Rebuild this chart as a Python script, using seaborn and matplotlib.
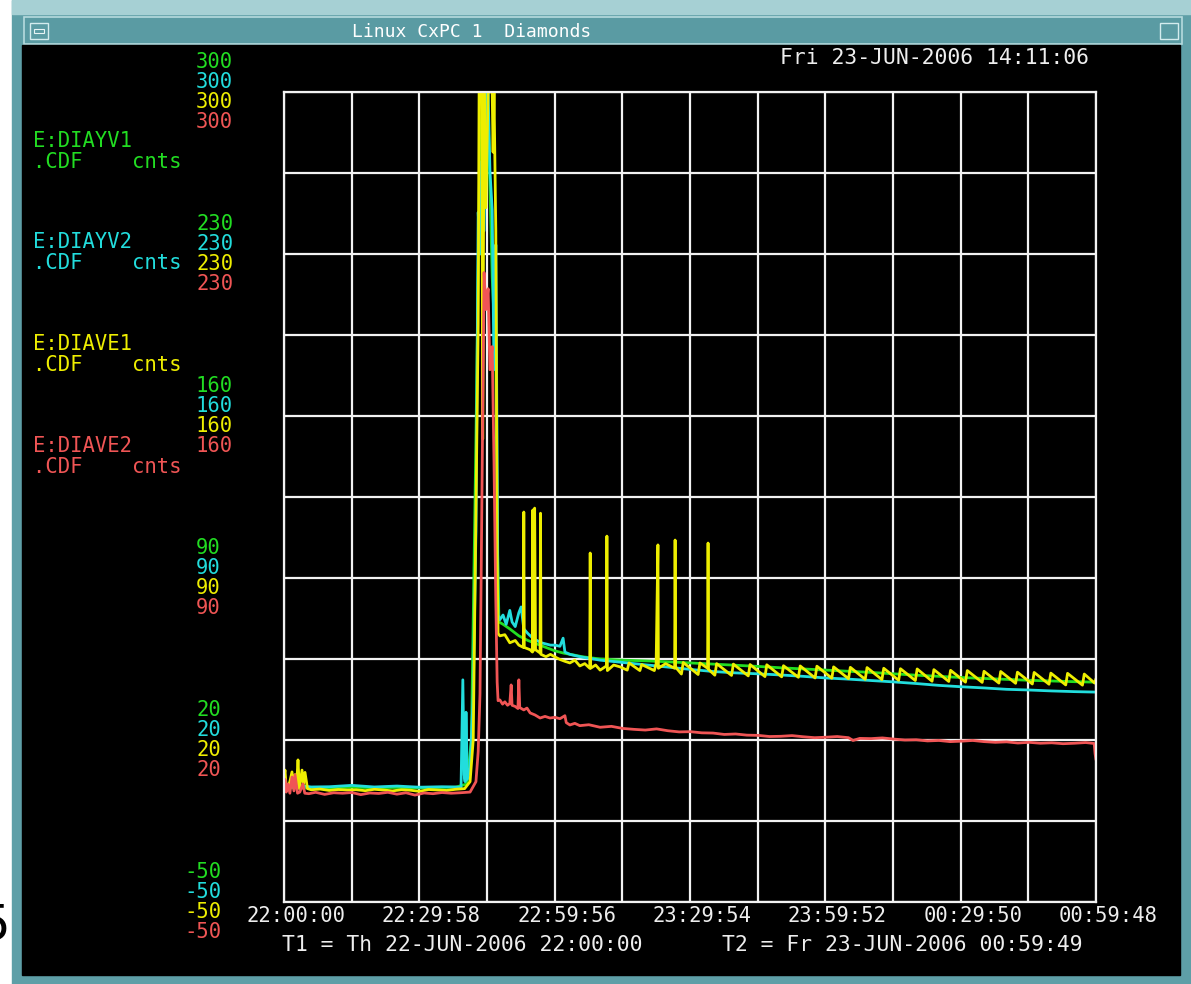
import matplotlib
matplotlib.use("Agg")
import pandas as pd
import matplotlib.pyplot as plt
import seaborn as sns
from matplotlib.patches import Rectangle

W, H = 1191, 984

# --- data: (minutes after T1, counts) ---
signals = ["E:DIAYV1", "E:DIAYV2", "E:DIAVE1", "E:DIAVE2"]
colors = ["#22dd22", "#22dddd", "#eeee00", "#f05555"]

yv1 = [(0, -0.5), (3, -0.8), (6, -0.6), (10, -0.7), (15, -0.4), (20, -0.6), (25, -0.5),
       (30, -0.7), (35, -0.5), (38, -0.4), (40.5, 1.0), (41.5, 20), (42.5, 150), (43.4, 280),
       (44.3, 300), (45.2, 290), (46.1, 220), (46.9, 185), (47.2, 110), (47.6, 71),
       (48.5, 70), (50, 68), (52, 65), (54, 63), (56, 61.5), (58, 60), (60, 58.5), (62, 57.5),
       (64, 56.8), (66, 56), (70, 55), (75, 54.5), (80, 54.2), (85, 53.8), (90, 53.3),
       (95, 52.8), (100, 52.3), (105, 51.8), (110, 51.2), (115, 50.7), (120, 50.2),
       (125, 49.7), (130, 49.2), (135, 48.6), (140, 48.0), (145, 47.5), (150, 47.0),
       (155, 46.6), (160, 46.2), (165, 45.8), (170, 45.5), (175, 45.2), (179.8, 45.0)]

yv2 = [(0, 0.3), (2, -0.3), (4, 0.2), (6, -0.3), (10, -0.2), (15, 0.4), (20, -0.3), (25, 0.1),
       (30, -0.4), (35, -0.2), (38, -0.3), (39.2, -0.5), (39.6, 46), (39.9, 5), (40.1, 2),
       (40.3, 32), (40.6, 3), (41.2, 8), (41.9, 40), (42.5, 110), (43.0, 248), (43.4, 230),
       (43.8, 270), (44.3, 240), (44.7, 300), (45.2, 300), (45.6, 266), (46.1, 249),
       (46.5, 180), (46.9, 234), (47.2, 140), (47.4, 74), (47.8, 72), (48.5, 74), (49.2, 70),
       (50.0, 76), (50.5, 71), (51.2, 69), (52.0, 75), (52.5, 77.5), (53.1, 68), (54.0, 66),
       (55.1, 64), (56.0, 63), (57.0, 62), (58.0, 61.5), (59.0, 61), (60.0, 61), (61.1, 60.5),
       (61.8, 64), (62.2, 58), (63.3, 57), (65.5, 56), (70, 54.5), (75, 53.5), (80, 52.5),
       (85, 51.5), (90, 50.5), (95, 49.6), (100, 49.0), (105, 48.6), (110, 48.1), (115, 47.5),
       (120, 46.8), (125, 46.3), (130, 45.7), (135, 45.1), (140, 44.4), (145, 43.6),
       (150, 43.0), (155, 42.5), (160, 41.9), (165, 41.6), (170, 41.2), (175, 40.9),
       (179.8, 40.7)]

ve1 = [(0, 4), (0.22, 7), (0.5, -1), (0.89, 0), (1.3, 2), (1.77, 6.2), (2.1, 0), (2.44, 5),
       (2.8, 1), (3.1, 11.4), (3.4, -1), (3.99, 7), (4.3, 1), (4.65, 6), (5.2, -1), (6, -1.5),
       (8, -1.2), (10, -1.8), (12, -1.4), (14, -1.6), (16, -1.5), (18, -1.9), (20, -1.3),
       (22, -1.6), (24, -2.0), (26, -1.5), (28, -1.7), (30, -2.2), (32, -1.4), (34, -1.6),
       (36, -1.8), (38, -1.3), (40, -1.0), (41.2, 2), (41.9, 20), (42.5, 120), (43.0, 200),
       (43.2, 300), (43.8, 300), (44.0, 150), (44.3, 300), (44.7, 250), (45.2, 300),
       (46.1, 300), (46.3, 274), (46.5, 300), (46.9, 240), (47.2, 100), (47.4, 66),
       (47.8, 65), (48.9, 65.5), (50.0, 62), (51.2, 63), (52.0, 61), (53.0, 60), (53.1, 118.5),
       (53.2, 60), (54.5, 59), (55.0, 58), (55.1, 119.4), (55.2, 58.5), (55.5, 120.2),
       (55.7, 59), (56.7, 57.6), (56.8, 118), (56.9, 57), (58.0, 56), (59.0, 57), (60.0, 55.9),
       (61.1, 54.8), (62.2, 54), (63.3, 53.3), (64.4, 54.5), (65.5, 52), (66.6, 53), (67.7, 51),
       (67.8, 100.8), (67.9, 51), (69.0, 52.4), (70.0, 50.2), (71.4, 52), (71.5, 108.1),
       (71.6, 50), (73.0, 52.4), (74.4, 51.6), (76.0, 50.2), (76.4, 53.3), (78.8, 50),
       (79.2, 52.6), (82.0, 50.0), (82.4, 53.0), (82.8, 104.3), (82.9, 51), (84.5, 53),
       (86.5, 51), (86.6, 106.4), (86.7, 51.5), (88.0, 48.5), (88.4, 53.5), (91.7, 48.3),
       (92.1, 53.3), (93.8, 51.0), (93.9, 105.1), (94.0, 50.5), (95.4, 48.0), (95.8, 53.0),
       (99.1, 47.9), (99.5, 52.8), (102.8, 47.7), (103.2, 52.6), (106.5, 47.4), (106.9, 52.5),
       (110.2, 47.3), (110.6, 52.1), (113.9, 47.1), (114.3, 52.0), (117.6, 46.8), (118.0, 51.9),
       (121.3, 46.7), (121.7, 51.6), (125.0, 46.5), (125.4, 51.4), (128.7, 46.2), (129.1, 51.3),
       (132.4, 46.1), (132.8, 51.0), (136.1, 45.8), (136.5, 50.8), (139.8, 45.7), (140.2, 50.7),
       (143.5, 45.4), (143.9, 50.4), (147.2, 45.3), (147.6, 50.1), (150.9, 45.0), (151.3, 50.0),
       (154.6, 44.9), (155.0, 49.7), (158.3, 44.6), (158.7, 49.6), (162.0, 44.5), (162.4, 49.3),
       (165.7, 44.2), (166.1, 49.2), (169.4, 44.1), (169.8, 48.9), (173.1, 43.8), (173.5, 48.8),
       (176.8, 43.7), (177.2, 48.5), (179.5, 44.6), (179.8, 46.5)]

ve2 = [(0, -2.5), (0.22, 3), (0.5, -2.5), (0.89, 1), (1.3, -3), (1.77, 4), (2.2, -2), (2.44, 5),
       (3.0, -3), (3.5, -2.5), (4.2, 1), (4.6, -3), (5.5, -3.2), (7, -2.6), (9, -3.5), (11, -2.8),
       (13, -3.0), (15, -2.7), (17, -3.6), (19, -2.9), (21, -3.1), (23, -2.6), (25, -3.4),
       (27, -2.8), (29, -3.8), (31, -2.9), (33, -3.2), (35, -2.7), (37, -3.0), (39, -2.8),
       (41.2, -2.5), (42.5, 2), (43.0, 15), (43.4, 40), (43.8, 120), (44.3, 222), (44.7, 206),
       (45.2, 215), (45.6, 180), (46.1, 190), (46.5, 140), (46.9, 80), (47.2, 45), (47.4, 37),
       (47.8, 37.3), (48.4, 35.5), (48.9, 36.5), (49.5, 35), (50.0, 35.8), (50.3, 43.8),
       (50.5, 35), (51.2, 34.5), (51.8, 33.6), (52.0, 46), (52.2, 34), (53.1, 33), (53.8, 33.8),
       (54.5, 31.7), (55.6, 30.8), (56.7, 29.5), (57.8, 30.2), (58.9, 29.5), (60.0, 29.8),
       (61.1, 29.2), (62.2, 30.5), (62.5, 27.5), (63.3, 26.5), (64.4, 27.2), (65.5, 26.2),
       (67.5, 26.6), (70, 25.5), (72.5, 25.9), (75, 25), (77.5, 24.6), (80, 24.3), (82.5, 24.8),
       (85, 24.0), (87.5, 23.5), (90, 23.6), (92.5, 23.1), (95, 23.0), (97.5, 22.4), (100, 22.6),
       (102.5, 22.1), (105, 22.0), (107.5, 21.5), (110, 21.6), (112.5, 21.9), (115, 21.4),
       (117.5, 21.0), (120, 21.2), (122.5, 21.5), (125, 21.0), (126, 19.8), (127.5, 20.7),
       (130, 20.6), (132.5, 20.9), (135, 20.4), (137.5, 20.0), (140, 20.1), (142.5, 19.6),
       (145, 19.8), (147.5, 19.3), (150, 19.5), (152.5, 19.8), (155, 19.3), (157.5, 19.0),
       (160, 19.2), (162.5, 18.7), (165, 19.0), (167.5, 18.6), (170, 18.8), (172.5, 18.4),
       (175, 18.6), (177.5, 18.9), (179.4, 18.5), (179.6, 14), (179.8, 11.4)]

ytick_vals = [300, 230, 160, 90, 20, -50]
xtick_labels = ["22:00:00", "22:29:58", "22:59:56", "23:29:54", "23:59:52", "00:29:50", "00:59:48"]
span = 179.8  # minutes, T1 -> T2

rows = []
for name, pts in zip(signals, [yv1, yv2, ve1, ve2]):
    for t, v in pts:
        rows.append((name, t, v))
df = pd.DataFrame(rows, columns=["signal", "t", "cnts"])

sns.set_theme(style="dark", rc={"axes.facecolor": "black"})
mono = "DejaVu Sans Mono"
plt.rcParams["font.family"] = [mono, "DejaVu Sans"]
FS = 14.8


def fx(x):
    return x / W


def fy(y):
    return 1 - y / H


fig = plt.figure(figsize=(W / 100, H / 100), dpi=100)
fig.patch.set_facecolor("white")

# window frame
fig.add_artist(Rectangle((fx(12), 0), 1, 1, color="#5e9fa7", zorder=1, transform=fig.transFigure))
fig.add_artist(Rectangle((fx(12), fy(14)), 1, 14 / H, color="#a6d0d4", zorder=1, transform=fig.transFigure))
fig.add_artist(Rectangle((fx(24), fy(44)), (1182 - 24) / W, 27 / H, facecolor="#5a9ba3",
                         edgecolor="#b6dbde", lw=1.2, zorder=1, transform=fig.transFigure))
for bx in [30, 1160]:
    fig.add_artist(Rectangle((fx(bx), fy(39)), 18 / W, 16 / H, facecolor="#5a9ba3",
                             edgecolor="#d4ecee", lw=1, zorder=1, transform=fig.transFigure))
fig.add_artist(Rectangle((fx(34), fy(33)), 10 / W, 4 / H, facecolor="none",
                         edgecolor="#e8f4f5", lw=0.8, zorder=1, transform=fig.transFigure))
fig.add_artist(Rectangle((fx(22), fy(975)), (1180 - 22) / W, (975 - 45) / H, color="black",
                         zorder=1, transform=fig.transFigure))
fig.text(fx(472), fy(32), "Linux CxPC 1  Diamonds", color="white", fontsize=13,
         ha="center", va="center", family=mono, zorder=6)
# edge of a neighbouring page digit, cropped in the screenshot
fig.text(fx(10), fy(925), "5", color="black", fontsize=36, ha="right", va="center",
         family="DejaVu Sans", zorder=0)

ax = fig.add_axes([fx(284), fy(902), (1096 - 284) / W, (902 - 92) / H])
ax.set_zorder(5)
ax.set_facecolor("black")

sns.lineplot(data=df, x="t", y="cnts", hue="signal", hue_order=signals,
             palette=dict(zip(signals, colors)), estimator=None, sort=False,
             legend=False, linewidth=2.0, ax=ax)

ax.set_xlim(0, span)
ax.set_ylim(-50, 300)
ax.set_xticks([span / 12 * i for i in range(13)])
ax.set_yticks([-50 + 35 * i for i in range(11)])
ax.tick_params(labelbottom=False, labelleft=False, length=0)
ax.grid(True, color="#f2f2f2", lw=1.6)
for s in ax.spines.values():
    s.set_color("#f2f2f2")
    s.set_linewidth(1.6)
ax.set_xlabel("")
ax.set_ylabel("")

# stacked coloured y scales, one per signal
offsets = [30, 10, -10, -30]
for v in ytick_vals:
    for c, dy in zip(colors, offsets):
        ax.annotate(str(v), xy=(0, v), xycoords=("axes fraction", "data"),
                    xytext=(-100 if v < 0 else -88, dy), textcoords="offset pixels",
                    ha="left", va="center", color=c, fontsize=FS, family=mono,
                    annotation_clip=False)

for i, lab in enumerate(xtick_labels):
    ax.annotate(lab, xy=(span / 6 * i, 0), xycoords=("data", "axes fraction"),
                xytext=(12, -14), textcoords="offset pixels", ha="center", va="center",
                color="#eeeeee", fontsize=FS, family=mono, annotation_clip=False)

# signal names
name_y = [141, 242, 344, 446]
for name, c, y in zip(signals, colors, name_y):
    fig.text(fx(33), fy(y), name, color=c, fontsize=FS, va="center", family=mono, zorder=6)
    fig.text(fx(33), fy(y + 21), ".CDF    cnts", color=c, fontsize=FS, va="center",
             family=mono, zorder=6)

fig.text(fx(780), fy(58), "Fri 23-JUN-2006 14:11:06", color="#eeeeee", fontsize=FS + 0.6,
         va="center", family=mono, zorder=6)
fig.text(fx(282), fy(945), "T1 = Th 22-JUN-2006 22:00:00", color="#eeeeee", fontsize=FS + 0.6,
         va="center", family=mono, zorder=6)
fig.text(fx(722), fy(945), "T2 = Fr 23-JUN-2006 00:59:49", color="#eeeeee", fontsize=FS + 0.6,
         va="center", family=mono, zorder=6)

fig.savefig("out.png", dpi=100, facecolor=fig.get_facecolor())
